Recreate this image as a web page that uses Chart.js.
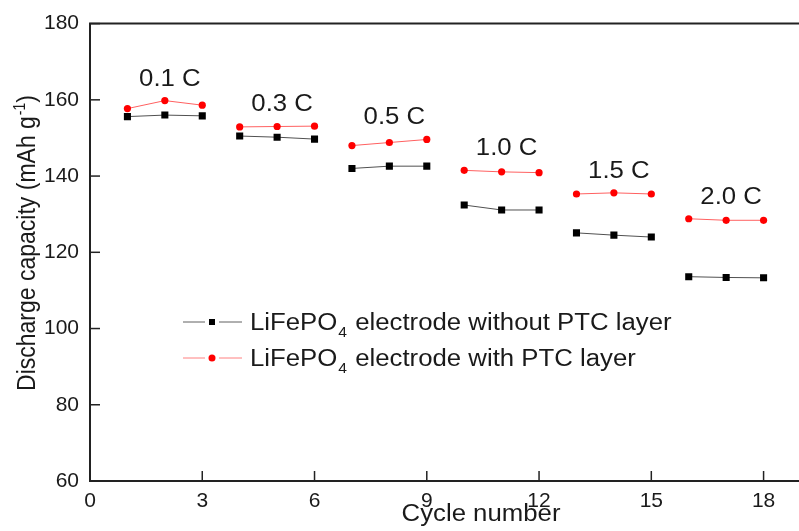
<!DOCTYPE html>
<html>
<head>
<meta charset="utf-8">
<script src="https://cdn.jsdelivr.net/npm/chart.js@4.4.0/dist/chart.umd.min.js"></script>
<style>
html,body{margin:0;padding:0;background:#fff;overflow:hidden;}
#caja{width:806px;height:531px;}
</style>
</head>
<body>
<div id="caja"><canvas id="grafico"></canvas></div>
<script>
// datos
var ciclos = [1,2,3, 4,5,6, 7,8,9, 10,11,12, 13,14,15, 16,17,18];
var sinPTC = [155.6,156.0,155.8, 150.5,150.2,149.7, 142.0,142.6,142.6, 132.4,131.1,131.1, 125.1,124.5,124.0, 113.6,113.4,113.3];
var conPTC = [157.7,159.8,158.6, 152.9,153.0,153.1, 148.0,148.8,149.6, 141.5,141.1,140.9, 135.3,135.6,135.3, 128.8,128.4,128.4];
var tasas = ['0.1 C','0.3 C','0.5 C','1.0 C','1.5 C','2.0 C'];
var ticksX = [0,3,6,9,12,15,18];
var ticksY = [60,80,100,120,140,160,180];
var nombres = ['electrode without PTC layer','electrode with PTC layer'];

var FUENTE = '"Liberation Sans", Arial, sans-serif';
var EST = 1.12;   // la figura original esta algo estirada en horizontal
var TINTA = '#1a1a1a';

function armarPuntos(valores){
  var pts = [];
  for(var i=0;i<valores.length;i++){
    pts.push({x: ciclos[i], y: valores[i]});
    // corte entre grupos de tasa
    if(i%3==2 && i<valores.length-1) pts.push({x: ciclos[i]+0.5, y: null});
  }
  return pts;
}

function texto(ctx, txt, x, y, align){
  ctx.save();
  ctx.translate(x,y);
  ctx.scale(EST,1);
  ctx.textAlign = align || 'left';
  ctx.fillText(txt,0,0);
  ctx.restore();
}

var extras = {
  id: 'extras',
  afterDraw: function(chart){
    var ctx = chart.ctx, a = chart.chartArea;
    var sx = chart.scales.x, sy = chart.scales.y;
    ctx.save();
    // marco superior
    ctx.strokeStyle = '#222';
    ctx.lineWidth = 2;
    ctx.beginPath();
    ctx.moveTo(a.left-1, a.top);
    ctx.lineTo(a.right, a.top);
    ctx.stroke();
    // marcas hacia adentro
    ctx.lineWidth = 1.5;
    ticksX.forEach(function(v){
      var px = sx.getPixelForValue(v);
      ctx.beginPath(); ctx.moveTo(px, a.bottom); ctx.lineTo(px, a.bottom-10); ctx.stroke();
    });
    ticksY.forEach(function(v){
      var py = sy.getPixelForValue(v);
      ctx.beginPath(); ctx.moveTo(a.left, py); ctx.lineTo(a.left+10, py); ctx.stroke();
    });

    ctx.fillStyle = TINTA;
    ctx.textBaseline = 'alphabetic';
    // etiquetas de tasa
    ctx.font = '23px ' + FUENTE;
    for(var g=0; g<tasas.length; g++){
      var maxi = Math.max(conPTC[g*3], conPTC[g*3+1], conPTC[g*3+2]);
      var px = sx.getPixelForValue(ciclos[g*3+1]) + 5;
      var py = sy.getPixelForValue(maxi) - 15;
      texto(ctx, tasas[g], px, py, 'center');
    }

    // leyenda
    var filas = [
      {y: 322, linea: '#606060', color: '#000', forma: 'rect'},
      {y: 358, linea: '#ff8080', color: '#ff0000', forma: 'circle'}
    ];
    filas.forEach(function(f, k){
      ctx.strokeStyle = f.linea;
      ctx.lineWidth = 1;
      ctx.beginPath();
      ctx.moveTo(183, f.y); ctx.lineTo(205, f.y);
      ctx.moveTo(219, f.y); ctx.lineTo(242, f.y);
      ctx.stroke();
      ctx.fillStyle = f.color;
      if(f.forma=='rect') ctx.fillRect(209, f.y-3, 6, 6);
      else { ctx.beginPath(); ctx.arc(212, f.y, 3.5, 0, Math.PI*2); ctx.fill(); }
      ctx.fillStyle = TINTA;
      var x0 = 250, base = f.y + 8;
      ctx.font = '23px ' + FUENTE;
      texto(ctx, 'LiFePO', x0, base);
      x0 += ctx.measureText('LiFePO').width*EST;
      ctx.font = '14px ' + FUENTE;
      texto(ctx, '4', x0+1, base+7);
      x0 += ctx.measureText('4').width*EST + 2;
      ctx.font = '23px ' + FUENTE;
      texto(ctx, ' ' + nombres[k], x0, base);
    });

    // titulo eje x
    ctx.font = '23px ' + FUENTE;
    texto(ctx, 'Cycle number', 481, 521, 'center');

    // titulo eje y con superindice
    var p1 = 'Discharge capacity (mAh g', sup = '-1', p2 = ')';
    ctx.font = '23px ' + FUENTE;
    var w1 = ctx.measureText(p1).width, w3 = ctx.measureText(p2).width;
    ctx.font = '14px ' + FUENTE;
    var w2 = ctx.measureText(sup).width;
    var total = w1 + w2 + w3 + 1;
    ctx.translate(35, 243);
    ctx.scale(EST, 1);
    ctx.rotate(-Math.PI/2);
    ctx.textAlign = 'left';
    ctx.font = '23px ' + FUENTE;
    ctx.fillText(p1, -total/2, 0);
    ctx.font = '14px ' + FUENTE;
    ctx.fillText(sup, -total/2 + w1 + 1, -9);
    ctx.font = '23px ' + FUENTE;
    ctx.fillText(p2, -total/2 + w1 + w2 + 1, 0);
    ctx.restore();
  }
};

var ctx = document.getElementById('grafico');
var miGrafico = new Chart(ctx, {
  type: 'line',
  data: {
    datasets: [{
      label: 'LiFePO4 electrode without PTC layer',
      data: armarPuntos(sinPTC),
      borderColor: '#505050',
      borderWidth: 1,
      pointStyle: 'rect',
      pointRadius: 5,
      pointBackgroundColor: '#000',
      pointBorderWidth: 0,
      spanGaps: false
    },{
      label: 'LiFePO4 electrode with PTC layer',
      data: armarPuntos(conPTC),
      borderColor: '#ff6060',
      borderWidth: 1,
      pointStyle: 'circle',
      pointRadius: 3.6,
      pointBackgroundColor: '#ff0000',
      pointBorderWidth: 0,
      spanGaps: false
    }]
  },
  options: {
    responsive: true,
    maintainAspectRatio: false,
    animation: false,
    layout: { padding: { top: 20, right: 2, left: 0, bottom: 0 } },
    plugins: { legend: { display: false }, tooltip: { enabled: false } },
    scales: {
      x: {
        type: 'linear',
        min: 0, max: 19,
        afterBuildTicks: function(s){ s.ticks = ticksX.map(function(v){ return {value: v}; }); },
        afterFit: function(s){ s.height = 50; },
        grid: { display: false, drawTicks: false },
        border: { display: true, color: '#222', width: 2 },
        ticks: { color: TINTA, font: { family: FUENTE, size: 21 }, padding: 8, maxRotation: 0 }
      },
      y: {
        min: 60, max: 180,
        afterBuildTicks: function(s){ s.ticks = ticksY.map(function(v){ return {value: v}; }); },
        afterFit: function(s){ s.width = 90; },
        grid: { display: false, drawTicks: false },
        border: { display: true, color: '#222', width: 2 },
        ticks: { color: TINTA, font: { family: FUENTE, size: 21 }, padding: 11 }
      }
    }
  },
  plugins: [extras]
});
</script>
</body>
</html>
